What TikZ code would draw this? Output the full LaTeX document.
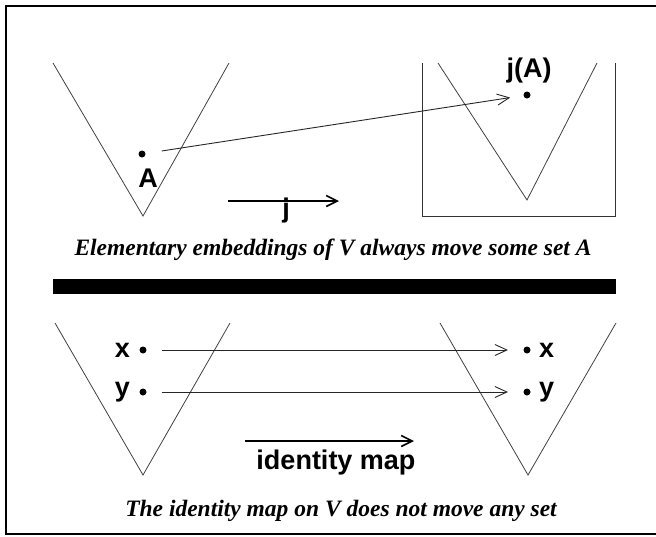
\documentclass[tikz,border=0pt]{standalone}
\usepackage{fontspec}
\usepackage{graphicx}
\setmainfont{Liberation Serif}
\setsansfont{Liberation Sans}
\usetikzlibrary{arrows.meta}
\tikzset{
  vline/.style={draw=black!75, line width=0.8pt},
  dot/.style={circle, fill=black, inner sep=0pt, minimum size=7pt},
  lab/.style={font=\sffamily\bfseries\fontsize{27}{29}\selectfont, inner sep=0pt},
  captext/.style={font=\bfseries\itshape\fontsize{23.5}{25}\selectfont, inner sep=0pt, anchor=base},
  arr/.style={draw=black!85, line width=0.9pt, -{Straight Barb[length=12pt,width=11pt,line width=0.9pt]}},
  bigarr/.style={draw=black, line width=1.8pt, -{Straight Barb[length=11pt,width=11pt,line width=1.6pt]}},
}
\begin{document}
\begin{tikzpicture}[x=1pt,y=-1pt]
\useasboundingbox (0,0) rectangle (656,536);
% frame (open on the right)
\draw[line width=2pt] (656,6) -- (6,6) -- (6,534) -- (656,534);

% ---- top half ----
\draw[vline] (53,63) -- (143,216) -- (229,63);
\draw[draw=black!80, line width=1pt] (422,63) -- (422,216) -- (615,216) -- (615,63);
\draw[vline] (438,63) -- (527,200) -- (597,63);

\node[dot] (A) at (142,154) {};
\node[lab] (Alab) at (148,178) {A};
\node[dot] (jA) at (527,95) {};
\node[lab] (jAlab) at (529,71) {j(A)};
\draw[arr, shorten <=20pt, shorten >=17pt] (A.center) -- (jA.center);

\coordinate (j1) at (228,201);
\coordinate (j2) at (339,201);
\node[lab] (jlab) at (286,211) {j};
\draw[bigarr] (j1) -- (j2);

\node[captext] (cap1) at (333,255) {Elementary embeddings of V always move some set A};

% black bar
\fill (53,279) rectangle (616,294);

% ---- bottom half ----
\draw[vline] (55,323) -- (143,475) -- (230,323);
\draw[vline] (440,323) -- (528,475) -- (616,323);

\node[dot] (x1) at (143,350) {};
\node[dot] (y1) at (143,392) {};
\node[dot] (x2) at (527,350) {};
\node[dot] (y2) at (527,392) {};
\node[lab, anchor=east] (x1lab) at (130,350) {x};
\node[lab, anchor=east] (y1lab) at (130,392) {y};
\node[lab, anchor=west] (x2lab) at (539,350) {x};
\node[lab, anchor=west] (y2lab) at (539,392) {y};
\draw[arr, shorten <=19pt, shorten >=19pt] (x1.center) -- (x2.center);
\draw[arr, shorten <=19pt, shorten >=19pt] (y1.center) -- (y2.center);

\coordinate (i1) at (245,441);
\coordinate (i2) at (414,441);
\draw[bigarr] (i1) -- (i2);
\node[lab] (idlab) at (336,463) {identity map};

\node[captext] (cap2) at (341,516) {The identity map on V does not move any set};
\end{tikzpicture}
\end{document}
